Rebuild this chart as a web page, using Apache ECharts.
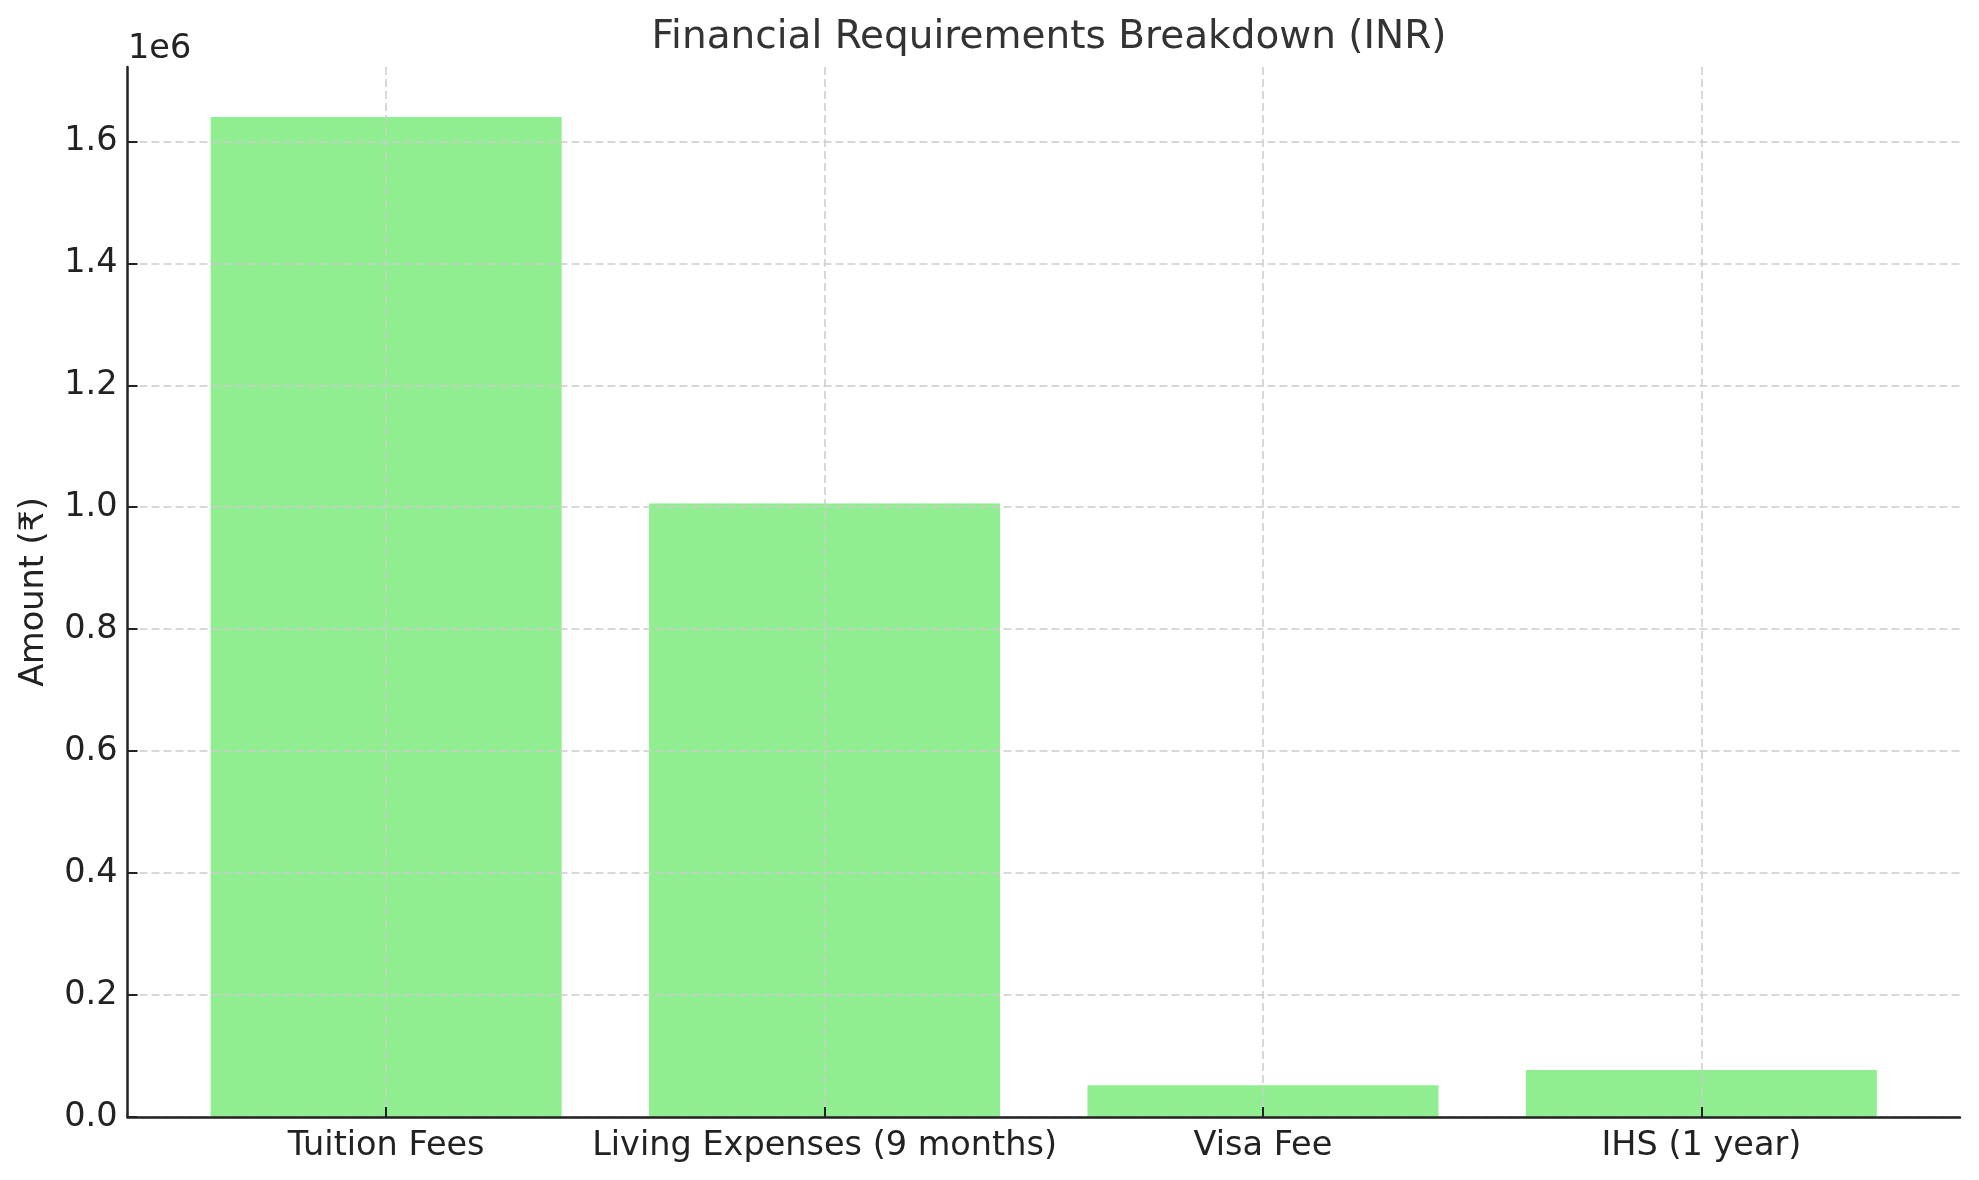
<!DOCTYPE html>
<html>
<head>
<meta charset="utf-8">
<script src="https://cdn.jsdelivr.net/npm/echarts@6/dist/echarts.min.js"></script>
<style>
    html, body { margin: 0; padding: 0; background: #fff; }
    #myChart { width: 1979px; height: 1180px; }
</style>
</head>
<body>
<div id="myChart"></div>
<script>
    // 数据
    let categories = ['Tuition Fees', 'Living Expenses (9 months)', 'Visa Fee', 'IHS (1 year)'];
    let amounts = [1640000, 1006000, 52000, 77000];
    let yTicks = [0, 200000, 400000, 600000, 800000, 1000000, 1200000, 1400000, 1600000];
    let xTicks = [0, 1, 2, 3];

    let font = 'DejaVu Sans';
    let gridColor = '#cccccc';
    let tickSize = 33.5;

    let data = amounts.map((v, i) => [i, v]);

    let option = {
        backgroundColor: '#fff',
        textStyle: { fontFamily: font },
        title: {
            text: 'Financial Requirements Breakdown (INR)',
            left: 1044,
            textAlign: 'center',
            top: 13,
            textStyle: { fontFamily: font, fontSize: 39, fontWeight: 'normal', color: '#333' }
        },
        graphic: [{
            type: 'text',
            left: 128,
            top: 32,
            style: { text: '1e6', fontFamily: font, fontSize: tickSize, fill: '#222' }
        }],
        grid: { left: 127.5, right: 19, top: 67, bottom: 63 },
        xAxis: {
            type: 'value',
            min: -0.59,
            max: 3.59,
            z: 3,
            axisLine: { show: true, onZero: false, lineStyle: { color: '#222', width: 2.5 } },
            axisTick: { show: true, inside: true, length: 10, customValues: xTicks, lineStyle: { color: '#222', width: 2 } },
            axisLabel: {
                customValues: xTicks,
                margin: 12,
                fontSize: tickSize,
                color: '#222',
                fontFamily: font,
                formatter: v => categories[Math.round(v)]
            },
            splitLine: { show: true, lineStyle: { color: gridColor, type: [8, 4], width: 1.5 } }
        },
        yAxis: {
            type: 'value',
            min: 0,
            max: 1722000,
            z: 3,
            name: 'Amount (₹)',
            nameLocation: 'middle',
            nameRotate: 90,
            nameGap: 76,
            nameTextStyle: { fontFamily: font, fontSize: tickSize, color: '#222' },
            axisLine: { show: true, onZero: false, lineStyle: { color: '#222', width: 2.5 } },
            axisTick: { show: true, inside: true, length: 10, customValues: yTicks, lineStyle: { color: '#222', width: 2 } },
            axisLabel: {
                customValues: yTicks,
                margin: 10,
                fontSize: tickSize,
                color: '#222',
                fontFamily: font,
                formatter: v => (v / 1e6).toFixed(1)
            },
            splitLine: { show: true, lineStyle: { color: gridColor, type: [8, 4], width: 1.5 } }
        },
        series: [{
            type: 'bar',
            data: data,
            barWidth: 351,
            itemStyle: { color: '#90EE90' },
            animation: false
        }]
    };

    let myChart = echarts.init(document.getElementById('myChart'));
    myChart.setOption(option);
</script>
</body>
</html>
